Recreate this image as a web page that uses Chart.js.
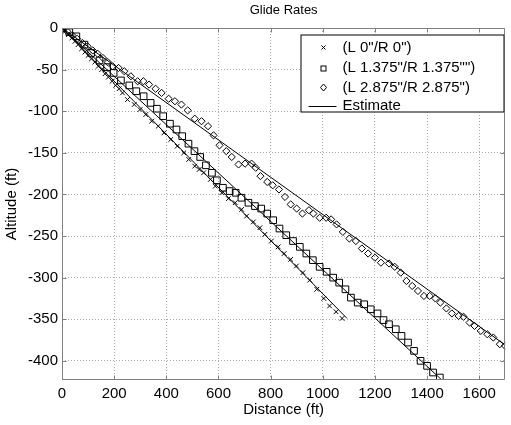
<!DOCTYPE html>
<html><head><meta charset="utf-8">
<script src="https://cdn.jsdelivr.net/npm/chart.js@4/dist/chart.umd.min.js"></script>
<style>html,body{margin:0;padding:0;background:#fff}#wrap{width:511px;height:425px}</style>
</head><body><div id="wrap"><canvas id="c" width="511" height="425"></canvas></div>
<script>
// ---- data ----
const titleText = 'Glide Rates';
const xTitle = 'Distance (ft)';
const yTitle = 'Altitude (ft)';
const seriesLabels = ['(L 0"/R 0")', '(L 1.375"/R 1.375"")', '(L 2.875"/R 2.875")', 'Estimate'];
const xTicks = [0, 200, 400, 600, 800, 1000, 1200, 1400, 1600];
const yTicks = [0, -50, -100, -150, -200, -250, -300, -350, -400];
const xRange = [0, 1700];
const yRange = [-423, 0];

const crossX = [0,12,25,38,50,62,75,88,100,113,126,139,152,165,178,192,206,219,232,251,277,299,321,344,369,391,417,442,467,486,509,526,543,569,588,613,638,664,689,708,734,759,778,803,829,852,877,899,924,950,977,1004,1026,1051,1074];
const crossY = [0,-4,-8,-12,-16,-20,-25,-29,-33,-37,-41,-46,-50,-55,-59,-64,-69,-73,-78,-86,-92,-98,-104,-112,-118,-126,-134,-142,-150,-158,-166,-170,-174,-182,-190,-198,-205,-210,-218,-226,-233,-240,-248,-256,-263,-271,-278,-286,-294,-303,-314,-325,-334,-341,-349];

const squareX = [0,28,55,86,112,144,173,198,226,258,285,313,340,364,388,414,439,461,485,508,530,552,575,594,617,643,666,688,715,740,764,787,810,834,860,886,912,937,962,988,1015,1040,1063,1087,1108,1134,1159,1184,1210,1233,1254,1280,1302,1327,1350,1375,1400,1423,1449];
const squareY = [0,-5,-10,-20,-30,-39,-47,-54,-63,-69,-76,-82,-90,-97,-106,-115,-122,-130,-139,-148,-155,-165,-174,-183,-192,-196,-198,-204,-210,-214,-217,-223,-231,-241,-249,-256,-263,-271,-279,-287,-293,-300,-306,-314,-324,-330,-332,-338,-343,-351,-356,-362,-370,-378,-388,-400,-406,-414,-420];

const diamondX = [0,20,40,58,78,98,118,137,157,176,194,217,239,264,290,312,334,359,382,409,433,458,482,509,535,560,581,604,630,651,677,702,727,743,761,787,808,832,855,877,900,922,947,964,988,1013,1032,1053,1077,1102,1127,1150,1174,1200,1223,1254,1276,1299,1321,1343,1365,1388,1410,1432,1451,1474,1495,1521,1540,1563,1582,1606,1631,1654,1679,1699];
const diamondY = [0,-4,-9,-13,-18,-22,-27,-31,-36,-41,-46,-48,-52,-58,-64,-64,-68,-73,-78,-85,-88,-92,-99,-109,-112,-118,-129,-141,-148,-155,-164,-163,-163,-168,-178,-185,-189,-194,-203,-212,-217,-223,-219,-223,-228,-228,-230,-236,-245,-253,-256,-265,-271,-276,-282,-283,-287,-294,-304,-310,-316,-322,-322,-325,-330,-337,-343,-346,-347,-354,-358,-364,-368,-372,-380,-382];

const est1X = [0, 1093], est1Y = [0, -349];
const est2X = [0, 1460], est2Y = [0, -424];
const est3X = [0, 1700], est3Y = [0, -381];

// ---- build chart ----
const FONT = '"Liberation Sans", Arial, Helvetica, sans-serif';
Chart.defaults.font.family = FONT;
Chart.defaults.color = '#000';
const pts = (xs, ys) => xs.map((v, i) => ({x: v, y: ys[i]}));

const markerDs = (label, xs, ys, style, r) => ({
  label, data: pts(xs, ys), showLine: false,
  pointStyle: style, pointRadius: r, pointHoverRadius: r,
  pointBorderColor: '#000', pointBackgroundColor: 'rgba(0,0,0,0)', pointBorderWidth: 1
});
const lineDs = (xs, ys) => ({
  label: seriesLabels[3], data: pts(xs, ys), showLine: true,
  borderColor: '#000', borderWidth: 1, pointRadius: 0, fill: false
});

const frame = {
  id: 'frame',
  afterDraw(chart) {
    const {ctx, chartArea: a, scales: {x, y}} = chart;
    ctx.save();
    ctx.strokeStyle = '#808080'; ctx.lineWidth = 1;
    const L = Math.round(a.left) + 0.5, R = Math.round(a.right) - 0.5;
    const T = Math.round(a.top) + 0.5, B = Math.round(a.bottom) - 0.5;
    ctx.beginPath(); ctx.rect(L, T, R - L, B - T); ctx.stroke();
    ctx.beginPath();
    xTicks.forEach(v => { const p = Math.round(x.getPixelForValue(v)) + 0.5;
      ctx.moveTo(p, B); ctx.lineTo(p, B - 4); ctx.moveTo(p, T); ctx.lineTo(p, T + 4); });
    yTicks.forEach(v => { const p = Math.round(y.getPixelForValue(v)) + 0.5;
      ctx.moveTo(L, p); ctx.lineTo(L + 4, p); ctx.moveTo(R, p); ctx.lineTo(R - 4, p); });
    ctx.stroke();
    // legend
    const lx = R - 204, ly = T + 6, lw = 204, lh = 78;
    ctx.fillStyle = '#fff'; ctx.fillRect(lx, ly, lw, lh);
    ctx.strokeStyle = '#000'; ctx.strokeRect(lx + 0.5, ly + 0.5, lw - 1, lh - 1);
    const rows = [ly + 13, ly + 33, ly + 53, ly + 71.5];
    const mx = lx + 23;
    ctx.strokeStyle = '#000'; ctx.lineWidth = 1;
    let cy = rows[0]; ctx.beginPath();
    ctx.moveTo(mx - 2, cy - 2); ctx.lineTo(mx + 2, cy + 2); ctx.moveTo(mx - 2, cy + 2); ctx.lineTo(mx + 2, cy - 2); ctx.stroke();
    cy = Math.round(rows[1]) + 0.5; ctx.strokeRect(mx - 2.5, cy - 2.5, 5, 5);
    cy = rows[2]; ctx.beginPath();
    ctx.moveTo(mx, cy - 3.5); ctx.lineTo(mx + 3, cy); ctx.lineTo(mx, cy + 3.5); ctx.lineTo(mx - 3, cy); ctx.closePath(); ctx.stroke();
    cy = Math.round(rows[3]) + 0.5; ctx.beginPath(); ctx.moveTo(lx + 8, cy); ctx.lineTo(lx + 36, cy); ctx.stroke();
    ctx.fillStyle = '#000'; ctx.font = '15px ' + FONT; ctx.textBaseline = 'middle'; ctx.textAlign = 'left';
    seriesLabels.forEach((t, i) => ctx.fillText(t, lx + 42, rows[i]));
    ctx.restore();
  }
};

new Chart(document.getElementById('c'), {
  type: 'scatter',
  data: { datasets: [
    markerDs(seriesLabels[0], crossX, crossY, 'crossRot', 3.3),
    markerDs(seriesLabels[1], squareX, squareY, 'rect', 4.7),
    markerDs(seriesLabels[2], diamondX, diamondY, 'rectRot', 3.6),
    lineDs(est1X, est1Y), lineDs(est2X, est2Y), lineDs(est3X, est3Y)
  ]},
  options: {
    responsive: false, animation: false, devicePixelRatio: 1,
    layout: { padding: { left: 0, right: 2, top: 0, bottom: 0 } },
    plugins: {
      legend: { display: false }, tooltip: { enabled: false },
      title: { display: true, text: titleText, fullSize: false, font: { size: 13, weight: 'normal' }, color: '#000', padding: { top: 3, bottom: 9.4 } }
    },
    scales: {
      x: {
        type: 'linear', min: xRange[0], max: xRange[1],
        afterBuildTicks: s => { s.ticks = xTicks.map(v => ({value: v})); },
        afterFit: s => { s.height = 45; },
        ticks: { font: { size: 15 }, color: '#000', padding: 5, maxRotation: 0, autoSkip: false, callback: v => String(v) },
        grid: { color: '#a8a8a8', lineWidth: 1, drawTicks: false },
        border: { display: false, dash: [1, 2] },
        title: { display: true, text: xTitle, font: { size: 15 }, color: '#000', padding: { top: 0, bottom: 6 } }
      },
      y: {
        type: 'linear', min: yRange[0], max: yRange[1],
        afterBuildTicks: s => { s.ticks = yTicks.map(v => ({value: v})); },
        afterFit: s => { s.width = 62; },
        ticks: { font: { size: 15 }, color: '#000', padding: 4, autoSkip: false, callback: v => String(v) },
        grid: { color: '#a8a8a8', lineWidth: 1, drawTicks: false },
        border: { display: false, dash: [1, 2] },
        title: { display: true, text: yTitle, font: { size: 15 }, color: '#000', padding: { top: 3, bottom: 0 } }
      }
    }
  },
  plugins: [frame]
});
</script></body></html>
